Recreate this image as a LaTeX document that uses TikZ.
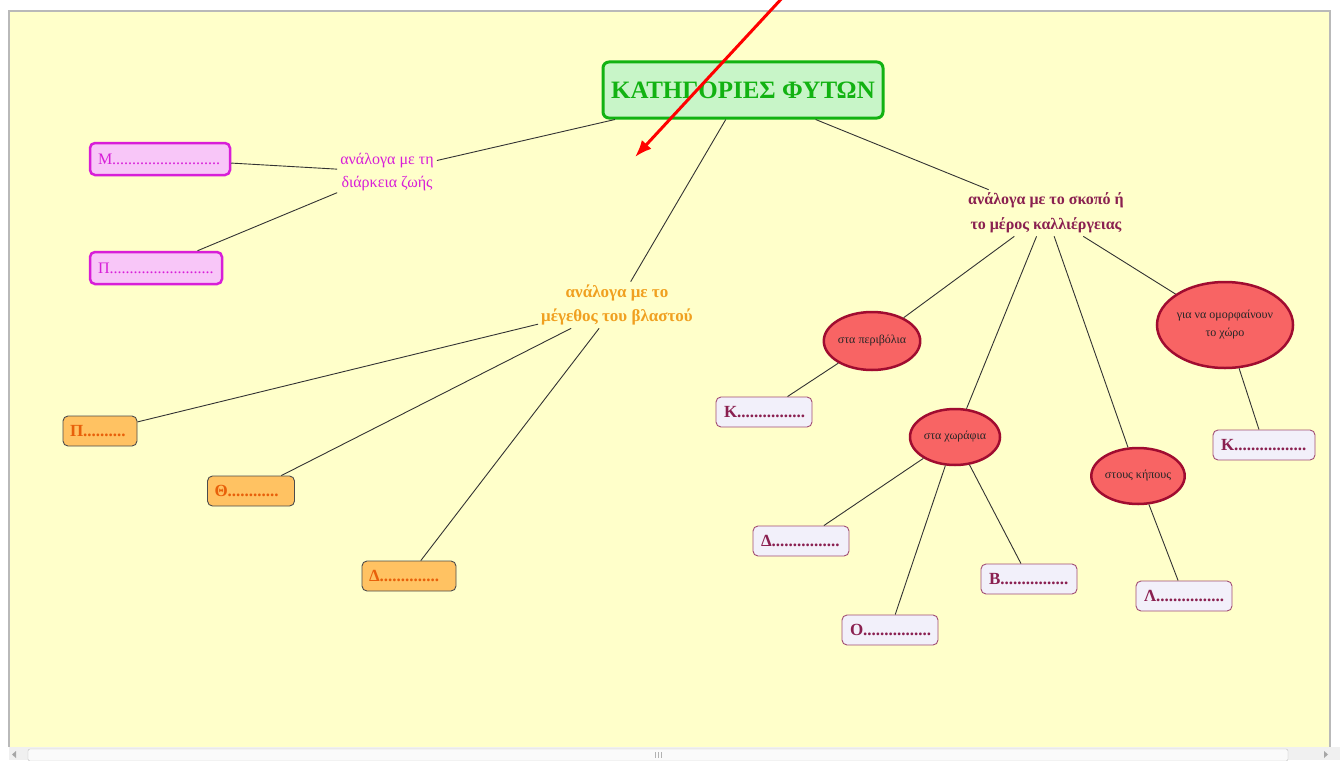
\documentclass[tikz,border=0pt]{standalone}
\usepackage{fontspec}
\setmainfont{Liberation Serif}
\usetikzlibrary{shapes.geometric, arrows.meta}

\definecolor{canvas}{HTML}{FFFFCA}
\definecolor{titlegreen}{HTML}{12B212}
\definecolor{titlefill}{HTML}{C8F5C8}
\definecolor{lifemag}{HTML}{D81ED8}
\definecolor{lifefill}{HTML}{F8C6F8}
\definecolor{sizeorange}{HTML}{F0A020}
\definecolor{boxorange}{HTML}{FFC262}
\definecolor{textorange}{HTML}{E8600A}
\definecolor{aimmaroon}{HTML}{8A2050}
\definecolor{ellred}{HTML}{F86464}
\definecolor{ellborder}{HTML}{A00C30}
\definecolor{answerfill}{HTML}{F2F0FA}

\tikzset{>=latex,
  link/.style={draw=black!80, line width=0.9pt},
  titlebox/.style={draw=titlegreen, line width=3pt, fill=titlefill, rounded corners=6pt,
    text=titlegreen, font=\fontsize{25}{30}\selectfont\bfseries, minimum width=280, minimum height=56},
  lifelabel/.style={text=lifemag, align=center, inner sep=3, font=\fontsize{16}{23}\selectfont},
  sizelabel/.style={text=sizeorange, align=center, inner sep=3, font=\fontsize{17}{24}\selectfont\bfseries},
  aimlabel/.style={text=aimmaroon, align=center, inner sep=3, font=\fontsize{16}{25}\selectfont\bfseries},
  lifebox/.style={draw=lifemag, line width=2.5pt, fill=lifefill, rounded corners=5pt, text=lifemag,
    font=\fontsize{16}{18}\selectfont, minimum height=32, inner xsep=8, align=left},
  sizebox/.style={draw=black!70, line width=0.9pt, fill=boxorange, rounded corners=5pt, text=textorange,
    font=\fontsize{17}{18}\selectfont\bfseries, minimum height=30, inner xsep=7, align=left},
  answerbox/.style={draw=aimmaroon!80, line width=0.9pt, fill=answerfill, rounded corners=5pt, text=aimmaroon,
    font=\fontsize{17}{18}\selectfont\bfseries, minimum height=30, inner xsep=8, align=left, text width=80},
  place/.style={ellipse, draw=ellborder, line width=2.5pt, fill=ellred, inner sep=0, text=black!85,
    align=center, font=\fontsize{12}{18}\selectfont, minimum width=94, minimum height=58}
}

\begin{document}
\begin{tikzpicture}[x=1pt, y=-1pt]
\useasboundingbox (0,0) rectangle (1340,760);

 % Window
 \fill[white] (0,0) rectangle (1340,760);
 \fill[canvas] (9,12) rectangle (1330,747);
 \draw[gray!55, line width=1.5pt] (9,747) -- (9,11) -- (1330,11) -- (1330,747);

 % Scroll bar
 \fill[gray!12] (9,747) rectangle (1340,760);
 \draw[gray!50, fill=gray!4, rounded corners=2pt] (28,749) rectangle (1288,761);
 \fill[gray!70] (16,751) -- (12,754.5) -- (16,758) -- cycle;
 \fill[gray!70] (1324,751) -- (1328,754.5) -- (1324,758) -- cycle;
 \foreach \x in {655, 658, 661}{
    \draw[gray!60, line width=0.8pt] (\x,752) -- (\x,758);
 }

 % Root
 \node[titlebox] (root) at (743,90) {ΚΑΤΗΓΟΡΙΕΣ ΦΥΤΩΝ};

 % Branch labels
 \node[lifelabel] (life) at (387,172) {ανάλογα με τη\\διάρκεια ζωής};
 \node[sizelabel] (size) at (617,305) {ανάλογα με το\\μέγεθος του βλαστού};
 \node[aimlabel] (aim) at (1046,213) {ανάλογα με το σκοπό ή\\το μέρος καλλιέργειας};

 % Life span
 \node[lifebox, text width=124] (mbox) at (160,159) {Μ...........................};
 \node[lifebox, text width=116] (pbox) at (156,268) {Π..........................};

 % Stem size
 \node[sizebox, text width=60] (pibox) at (100,431) {Π..........};
 \node[sizebox, text width=73] (thbox) at (251,491) {Θ............};
 \node[sizebox, text width=80] (debox) at (409,576) {Δ..............};

 % Purpose
 \node[place] (orch) at (872,341) {στα περιβόλια};
 \node[place, minimum width=90, minimum height=56] (field) at (955,437) {στα χωράφια};
 \node[place, minimum width=90, minimum height=56] (garden) at (1138,476) {στους κήπους};
 \node[place, minimum width=132, minimum height=86] (deco) at (1225,325) {για να ομορφαίνουν\\το χώρο};

 \node[answerbox] (kbox) at (764,412) {Κ................};
 \node[answerbox, text width=86] (kdeco) at (1264,445) {Κ.................};
 \node[answerbox] (dbox) at (801,541) {Δ................};
 \node[answerbox] (bbox) at (1029,579) {Β................};
 \node[answerbox] (obox) at (890,630) {Ο................};
 \node[answerbox] (lbox) at (1184,596) {Λ................};

% Lines
 \foreach \n in {life, size, aim}{
    \draw[link] (root) -- (\n);
 }
 \foreach \n in {mbox, pbox}{
    \draw[link] (life) -- (\n);
 }
 \foreach \n in {pibox, thbox, debox}{
    \draw[link] (size) -- (\n);
 }
 \foreach \n in {orch, field, garden, deco}{
    \draw[link] (aim) -- (\n);
 }
 \foreach \n in {dbox, obox, bbox}{
    \draw[link] (field) -- (\n);
 }
 \draw[link] (orch) -- (kbox);
 \draw[link] (garden) -- (lbox);
 \draw[link] (deco) -- (kdeco);

 % Pointer
 \coordinate (tail) at (784,-4);
 \coordinate (tip) at (635,157);
 \draw[red, line width=3pt, -{Latex[length=17pt, width=13pt]}] (tail) -- (tip);

\end{tikzpicture}
\end{document}
